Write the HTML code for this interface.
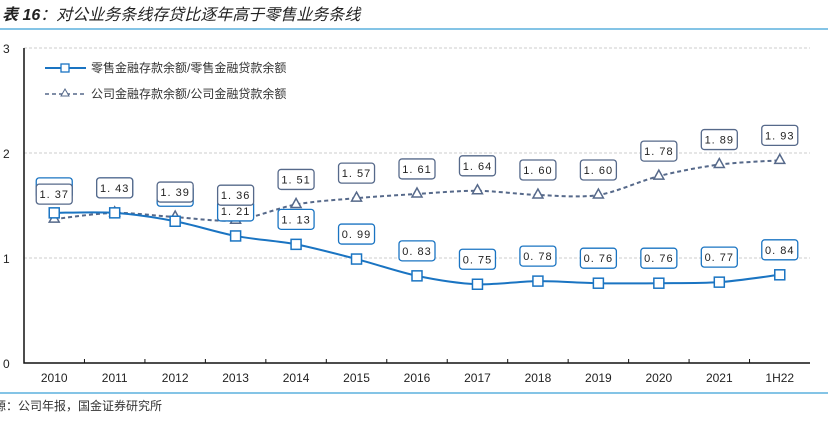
<!DOCTYPE html>
<html><head><meta charset="utf-8"><style>
body{margin:0;background:#fff;width:828px;height:419px;overflow:hidden;font-family:"Liberation Sans","Noto Sans CJK SC",sans-serif}
</style></head><body>
<svg id="c" width="828" height="419" xmlns="http://www.w3.org/2000/svg">
<text x="2" y="20" font-size="16" font-style="italic" font-weight="bold" fill="#222" font-family="Liberation Sans,Noto Sans CJK SC,sans-serif">表 16<tspan font-weight="normal">：对公业务条线存贷比逐年高于零售业务条线</tspan></text>
<line x1="0" y1="29" x2="828" y2="29" stroke="#3aa0d8" stroke-width="1.2"/>
<line x1="0" y1="393" x2="828" y2="393" stroke="#3aa0d8" stroke-width="1.2"/>
<text x="-6" y="410" font-size="12" fill="#333">源：公司年报，国金证券研究所</text>
<g id="plot"></g>
</svg>
<script>
const categories=["2010","2011","2012","2013","2014","2015","2016","2017","2018","2019","2020","2021","1H22"];
const retailValues=[1.43,1.43,1.35,1.21,1.13,0.99,0.83,0.75,0.78,0.76,0.76,0.77,0.84];
const corpValues=[1.37,1.43,1.39,1.36,1.51,1.57,1.61,1.64,1.60,1.60,1.78,1.89,1.93];
const yTicks=[0,1,2,3];
const NS="http://www.w3.org/2000/svg";
const g=document.getElementById('plot');
const X0=24,X1=810,Y0=363,YU=105;
const step=(X1-X0)/categories.length;
function xs(i){return X0+step*(i+0.5);}
function ys(v){return Y0-v*YU;}
function mk(t,a,p){const e=document.createElementNS(NS,t);for(const k in a)e.setAttribute(k,a[k]);(p||g).appendChild(e);return e;}
yTicks.forEach(t=>{
 if(t>0){const l=mk('line',{x1:X0,x2:X1,y1:ys(t),y2:ys(t),stroke:'#ccc','stroke-dasharray':'3,2'});
 
 }
 const tx=mk('text',{x:3,y:ys(t)+5,'font-size':12,fill:'#222'});tx.textContent=t;
 
 
});
const ax=mk('path',{d:`M${X0},${ys(3)} V${Y0} H${X1}`,stroke:'#111','stroke-width':1.5,fill:'none'});


categories.forEach((c,i)=>{
 if(i>0)mk('line',{x1:X0+step*i,x2:X0+step*i,y1:Y0,y2:Y0-4,stroke:'#111'});
 const t=mk('text',{x:xs(i),y:382,'font-size':12,fill:'#222','text-anchor':'middle'});t.textContent=c;
 
 
});
function curve(vals){
 const p=vals.map((v,i)=>[xs(i),ys(v)]);let d=`M${p[0][0]},${p[0][1]}`;
 for(let i=0;i<p.length-1;i++){const a=p[i-1]||p[i],b=p[i],c=p[i+1],e=p[i+2]||c;
  const t=0.15;d+=` C${b[0]+(c[0]-a[0])*t},${b[1]+(c[1]-a[1])*t} ${c[0]-(e[0]-b[0])*t},${c[1]-(e[1]-b[1])*t} ${c[0]},${c[1]}`;}
 return d;}
function series(vals,color,dash,marker,name){
 const s=mk('path',{d:curve(vals),stroke:color,'stroke-width':2,fill:'none','stroke-dasharray':dash||'none'});
 
 
 vals.forEach((v,i)=>{
  const x=xs(i),y=ys(v);let m;
  if(marker==='sq')m=mk('rect',{x:x-5,y:y-5,width:10,height:10,fill:'#fff',stroke:color,'stroke-width':1.5});
  else m=mk('path',{d:`M${x},${y-6} L${x+5},${y+3} L${x-5},${y+3}Z`,fill:'#fff',stroke:color,'stroke-width':1.5});
  
  
 });
}
function labels(vals,color,name){
 vals.forEach((v,i)=>{
  const x=xs(i),y=ys(v)-25;
  const r=mk('rect',{x:x-18,y:y-10,width:36,height:20,rx:3,fill:'#fff',stroke:color,'stroke-width':1.3});
  
  
  const t=mk('text',{x:x,y:y+4,'font-size':11,fill:'#222','text-anchor':'middle','letter-spacing':'1'});
  t.textContent=v.toFixed(2).replace('.','. ');
  
  
 });
}
series(corpValues,'#56698a','4,3','tri','corporate');
series(retailValues,'#1a74c2',null,'sq','retail');
labels(retailValues,'#1a74c2','retail');
labels(corpValues,'#56698a','corporate');
// legend
const lg=mk('g',{});


mk('line',{x1:45,x2:86,y1:68,y2:68,stroke:'#1a74c2','stroke-width':2},lg);
mk('rect',{x:61,y:64,width:8,height:8,fill:'#fff',stroke:'#1a74c2','stroke-width':1.3},lg);
const l1=mk('text',{x:91,y:72,'font-size':12,fill:'#333'},lg);l1.textContent='零售金融存款余额/零售金融贷款余额';


mk('line',{x1:45,x2:86,y1:94,y2:94,stroke:'#56698a','stroke-width':1.5,'stroke-dasharray':'4,3'},lg);
mk('path',{d:'M65,89 L69,96 L61,96Z',fill:'#fff',stroke:'#56698a'},lg);
const l2=mk('text',{x:91,y:98,'font-size':12,fill:'#333'},lg);l2.textContent='公司金融存款余额/公司金融贷款余额';


</script>
</body></html>
